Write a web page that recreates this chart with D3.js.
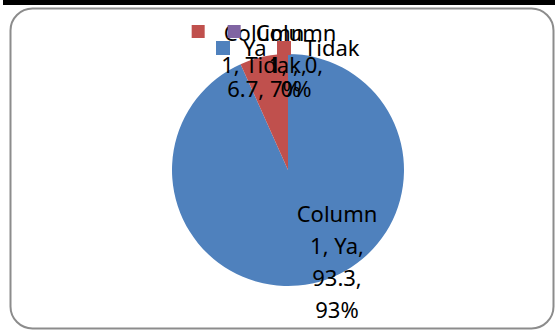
<!DOCTYPE html>
<html>
<head>
<meta charset="utf-8">
<script src="https://cdn.jsdelivr.net/npm/d3@7/dist/d3.min.js"></script>
<style>
  html, body { margin: 0; padding: 0; background: #fff; }
  svg { display: block; }
  text { font-family: "Noto Sans", "Open Sans", sans-serif; }
</style>
</head>
<body>
<svg id="chart" width="555" height="331"></svg>
<script>
// ---- data ----
const series = "Column 1";
const categories = ["Ya", "Tidak", ""];
const values = [93.3, 6.7, 0];
const percents = ["93%", "7%", "0%"];
const colors = ["#4F81BD", "#C0504D", "#8064A2"];
const legendCategories = ["Ya", "Tidak"];

// label line breaks (as wrapped in the original)
const labelLines = [
  ["Column", "1, Ya,", "93.3,", "93%"],
  ["Column", "1, Tidak,", "6.7, 7%"],
  ["Column", "1, , 0,", "0%"]
];

// ---- layout ----
const W = 555, H = 331;
const cx = 288, cy = 170, R = 116;
const fontSize = 22;
const svg = d3.select("#chart");

// top black bar
svg.append("rect").attr("x", 3).attr("y", 0).attr("width", W - 3).attr("height", 5).attr("fill", "#000");

// rounded frame
svg.append("rect").attr("x", 10.5).attr("y", 8.5).attr("width", 543).attr("height", 320)
  .attr("rx", 22).attr("ry", 22)
  .attr("fill", "#fff").attr("stroke", "#8c8c8c").attr("stroke-width", 2);

// pie
const pie = d3.pie().sort(null).value(d => d)(values);
const arc = d3.arc().innerRadius(0).outerRadius(R);
const g = svg.append("g").attr("transform", `translate(${cx},${cy})`);
g.selectAll("path").data(pie).join("path")
  .attr("d", arc)
  .attr("fill", (d, i) => colors[i]);

// data labels (positions relative to pie centre)
const labelPos = [
  { dx: 49, dy: 52, key: false, gaps: [32, 32, 32] },
  { dx: -24, dy: -129, key: true, gaps: [32, 24] },
  { dx: 8, dy: -129, key: true, gaps: [32, 24] }
];
const labelsG = svg.append("g");
labelLines.forEach((lines, i) => {
  const p = labelPos[i];
  const x = cx + p.dx, y = cy + p.dy;
  const t = labelsG.append("text")
    .attr("x", x).attr("y", y)
    .attr("text-anchor", "middle")
    .attr("font-size", fontSize)
    .attr("fill", "#000");
  lines.forEach((ln, j) => {
    t.append("tspan").attr("x", x).attr("dy", j === 0 ? 0 : p.gaps[j - 1]).text(ln);
  });
  if (p.key) {
    const w = t.node().firstChild.getComputedTextLength();
    labelsG.append("rect")
      .attr("x", x - w / 2 - 32 + (i === 2 ? 4 : 0)).attr("y", y - 16)
      .attr("width", 13).attr("height", 13)
      .attr("fill", colors[i]);
  }
});

// legend
const legend = svg.append("g");
const legX = [216, 277];
legendCategories.forEach((c, i) => {
  legend.append("rect").attr("x", legX[i]).attr("y", 41).attr("width", 14).attr("height", 14)
    .attr("fill", colors[i]);
  legend.append("text").attr("x", legX[i] + 27).attr("y", 56)
    .attr("font-size", fontSize).attr("fill", "#000").text(c);
});
</script>
</body>
</html>
